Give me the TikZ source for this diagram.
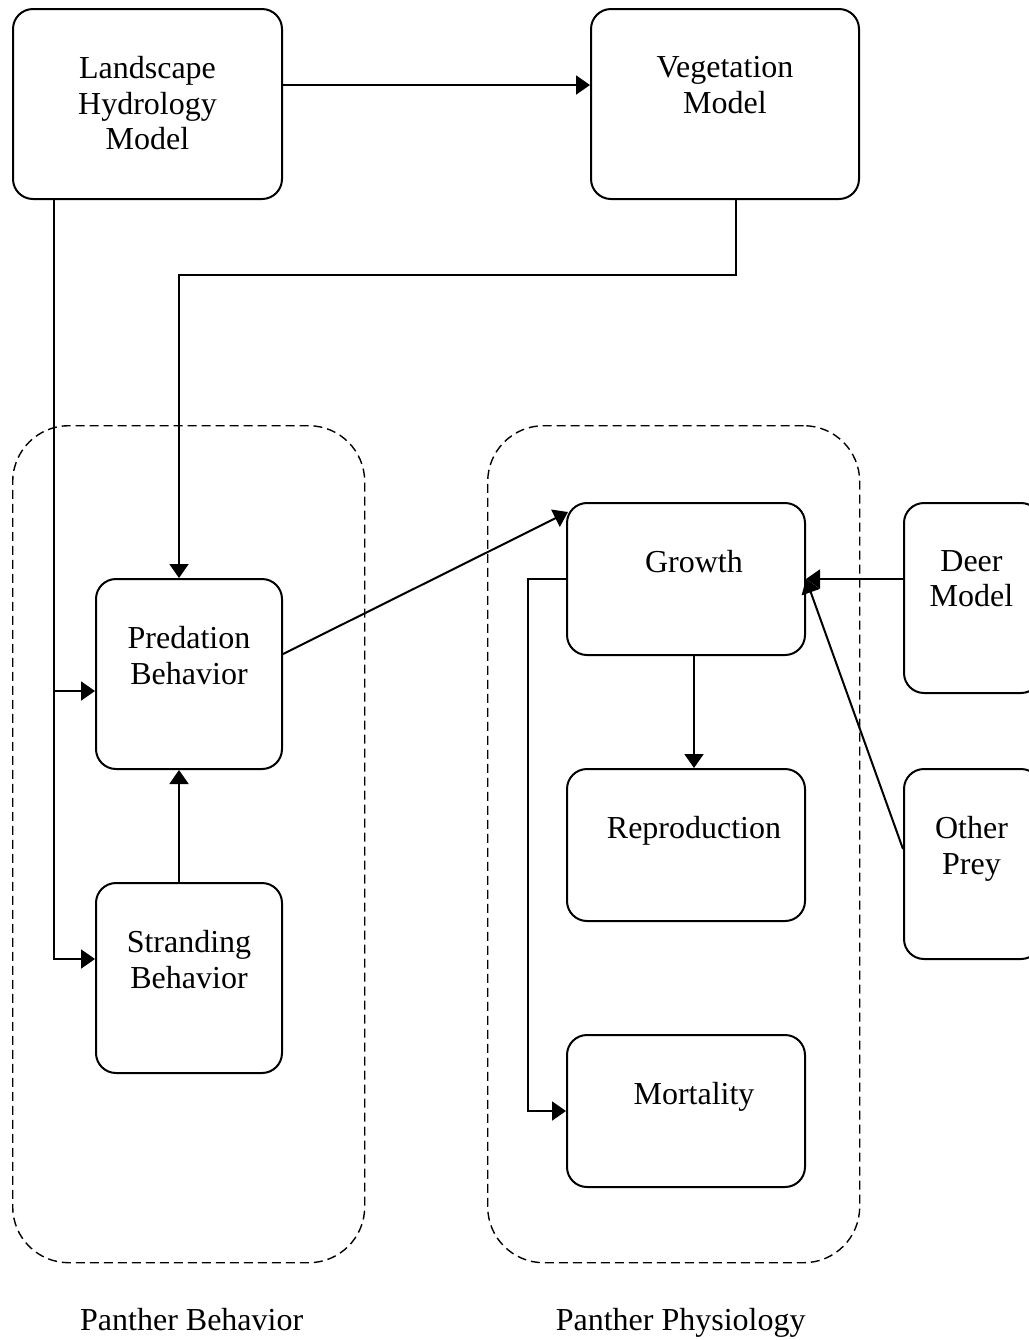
\documentclass[tikz,border=0pt]{standalone}
\usepackage{fontspec}
\setmainfont{Liberation Serif}
\usetikzlibrary{arrows.meta,positioning}

\tikzset{
  box/.style={draw, line width=1pt, rounded corners=10pt, anchor=north west},
  lbl/.style={align=center, inner sep=0pt, font=\fontsize{16pt}{17.8pt}\selectfont},
  grp/.style={draw, dash pattern=on 4.5pt off 2.5pt, line width=0.7pt, rounded corners=28pt, anchor=north west},
  link/.style={line width=1pt, -{Triangle[length=7pt,width=9.5pt]}}
}

\begin{document}
\begin{tikzpicture}[x=0.5pt,y=-0.5pt]
\useasboundingbox (0,0) rectangle (1029,1340);
\node[grp, minimum width=176pt, minimum height=418.5pt] (behav) at (12,425) {};
\node[grp, minimum width=186pt, minimum height=418.5pt] (physio) at (487,425) {};
\node[box, minimum width=134.5pt, minimum height=95pt] (land) at (12,8) {};
\node[box, minimum width=134pt, minimum height=95pt] (veg) at (590,8) {};
\node[box, minimum width=93pt, minimum height=95pt] (pred) at (95,578) {};
\node[box, minimum width=93pt, minimum height=95pt] (strand) at (95,882) {};
\node[box, minimum width=119pt, minimum height=76pt] (growth) at (566,502) {};
\node[box, minimum width=119pt, minimum height=76pt] (repro) at (566,768) {};
\node[box, minimum width=119pt, minimum height=76pt] (mort) at (566,1034) {};
\node[box, minimum width=68.5pt, minimum height=95pt] (deer) at (903,502) {};
\node[box, minimum width=68.5pt, minimum height=95pt] (prey) at (903,768) {};

\node[lbl, below=24pt of land.north] (landtxt) {Landscape\\Hydrology\\Model};
\node[lbl, below=24pt of veg.north] (vegtxt) {Vegetation\\Model};
\node[lbl, below=24pt of pred.north] (predtxt) {Predation\\Behavior};
\node[lbl, below=24pt of strand.north] (strandtxt) {Stranding\\Behavior};
\node[lbl, below=24pt of growth.north, xshift=4pt] (growthtxt) {Growth};
\node[lbl, below=24pt of repro.north, xshift=4pt] (reprotxt) {Reproduction};
\node[lbl, below=24pt of mort.north, xshift=4pt] (morttxt) {Mortality};
\node[lbl, below=24pt of deer.north, xshift=-0.5pt] (deertxt) {Deer\\Model};
\node[lbl, below=24pt of prey.north, xshift=-0.5pt] (preytxt) {Other\\Prey};
\node[lbl, below=22pt of behav.south, xshift=1.5pt] (behavtxt) {Panther Behavior};
\node[lbl, below=22pt of physio.south, xshift=3.5pt] (physiotxt) {Panther Physiology};

\coordinate (trunk) at ([xshift=21pt]land.south west);
\coordinate (predin) at ([yshift=-8.5pt]pred.west);
\draw[link] ([yshift=9.5pt]land.east) -- ([yshift=9.5pt]veg.west);
\draw[link] (trunk) |- ([yshift=9.5pt]strand.west);
\draw[link] (trunk |- predin) -- (predin);
\draw[link] ([xshift=5.5pt]veg.south) -- ++(0,-37.5pt) -| ([xshift=-5pt]pred.north);
\draw[link] ([xshift=-5pt]strand.north) -- ([xshift=-5pt]pred.south);
\draw[link] ([yshift=10pt]pred.east) -- ([shift={(1pt,-5pt)}]growth.north west);
\draw[link] ([xshift=4pt]growth.south) -- ([xshift=4pt]repro.north);
\draw[link] (growth.west) -- ++(-19pt,0) |- (mort.west);
\draw[link] ([yshift=9.5pt]deer.west) -- (growth.east);
\draw[link] ([yshift=7.5pt]prey.west) -- (growth.east);
\end{tikzpicture}
\end{document}
